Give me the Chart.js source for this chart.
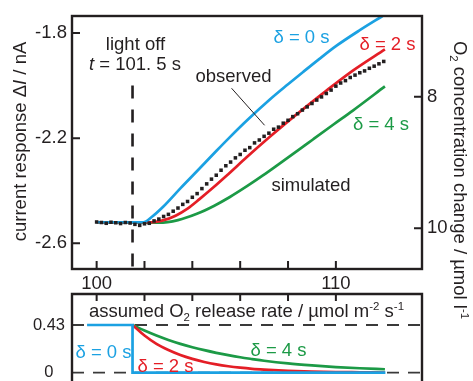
<!DOCTYPE html>
<html>
<head>
<meta charset="utf-8">
<script src="https://cdn.jsdelivr.net/npm/chart.js@4.4.1/dist/chart.umd.min.js"></script>
<style>
html, body { margin: 0; padding: 0; background: #fff; }
#top { position: absolute; left: 0; top: 0; width: 473px; height: 381px; }
#bot { position: absolute; left: 0; top: 285px; width: 473px; height: 96px; }
</style>
</head>
<body>
<div id="top"><canvas id="c1"></canvas></div>
<div id="bot"><canvas id="c2"></canvas></div>
<script>
// ---- data ----
// time axis (s)
const xMin = 98.97, xMax = 113.6;
const xTicks = [100, 102, 104, 106, 108, 110];
const xLabelled = [100, 110];
const lightOff = 101.5;

// current response (nA), left axis
const currentMin = -2.698, currentMax = -1.735;
const currentTicks = [-2.6, -2.2, -1.8];
// O2 concentration change (umol/l), right axis (reversed)
const concMin = 6.774, concMax = 10.618;
const concTicks = [8, 10];

// simulated responses [t, nA]
const sim0 = [[100, -2.52], [101.95, -2.52], [102.3, -2.5], [102.78, -2.461], [103.5, -2.391],
  [104.18, -2.327], [105.0, -2.249], [105.57, -2.196], [106.3, -2.131], [107.24, -2.053],
  [108.0, -1.995], [108.63, -1.948], [109.3, -1.899], [110.03, -1.848], [111.0, -1.789], [111.95, -1.735]];
const sim2 = [[100, -2.52], [102.3, -2.52], [102.8, -2.512], [103.3, -2.495], [103.8, -2.468],
  [104.3, -2.432], [104.86, -2.389], [105.5, -2.337], [106.28, -2.272], [107.24, -2.195],
  [107.95, -2.14], [108.8, -2.077], [109.62, -2.018], [110.71, -1.943], [112.05, -1.862]];
const sim4 = [[100, -2.52], [102.6, -2.522], [103.4, -2.512], [104.19, -2.488], [104.9, -2.458],
  [105.57, -2.424], [106.3, -2.382], [106.95, -2.342], [107.66, -2.296], [108.5, -2.241],
  [109.04, -2.205], [109.9, -2.148], [110.71, -2.095], [112.05, -2.003]];

// observed response [t, nA]
const observed = [
  [100.0, -2.519], [100.2, -2.521], [100.4, -2.524], [100.6, -2.52], [100.8, -2.522],
  [101.0, -2.525], [101.2, -2.521], [101.4, -2.523], [101.6, -2.528], [101.8, -2.532],
  [102.0, -2.526], [102.2, -2.524], [102.4, -2.515], [102.6, -2.508], [102.8, -2.498],
  [103.0, -2.49], [103.2, -2.478], [103.4, -2.466], [103.6, -2.452], [103.8, -2.441],
  [104.0, -2.425], [104.2, -2.411], [104.4, -2.392], [104.6, -2.374], [104.8, -2.356],
  [105.0, -2.341], [105.2, -2.322], [105.4, -2.305], [105.6, -2.291], [105.8, -2.275],
  [106.0, -2.262], [106.2, -2.246], [106.4, -2.236], [106.6, -2.218], [106.8, -2.207],
  [107.0, -2.193], [107.2, -2.181], [107.4, -2.166], [107.6, -2.158], [107.8, -2.143],
  [108.0, -2.132], [108.2, -2.118], [108.4, -2.107], [108.6, -2.093], [108.8, -2.081],
  [109.0, -2.068], [109.2, -2.055], [109.4, -2.043], [109.6, -2.03], [109.8, -2.017],
  [110.0, -2.002], [110.2, -1.99], [110.4, -1.981], [110.6, -1.969], [110.8, -1.96],
  [111.0, -1.951], [111.2, -1.944], [111.4, -1.934], [111.6, -1.926], [111.8, -1.917],
  [112.0, -1.908]];

// assumed O2 release rate (umol m-2 s-1)
const rateMin = -0.0748, rateMax = 0.7095;
const rateTicks = [0, 0.43];
const rateMax0 = 0.43;
const rate0 = [[99.6, 0.43], [101.5, 0.43], [101.5, 0], [112.07, 0]];
const rate2 = [[101.5, 0.43], [102, 0.335], [102.5, 0.26], [103, 0.205], [103.5, 0.16], [104, 0.125],
  [104.5, 0.097], [105, 0.075], [105.5, 0.058], [106, 0.045], [106.5, 0.035], [107, 0.028],
  [108, 0.017], [109, 0.01], [110, 0.006], [111, 0.004], [112.05, 0.002]];
const rate4 = [[101.5, 0.43], [102, 0.38], [102.5, 0.335], [103, 0.295], [103.5, 0.26], [104, 0.23],
  [104.5, 0.203], [105, 0.179], [105.5, 0.158], [106, 0.139], [106.5, 0.123], [107, 0.108],
  [108, 0.084], [109, 0.066], [110, 0.051], [111, 0.04], [112.05, 0.031]];

// ---- styles ----
const FONT = '"Liberation Sans", Arial, sans-serif';
const FS = 18.5;
const INK = '#231f20';
const BLUE = '#1ba1e2', RED = '#e41e26', GREEN = '#1c9a46';

const pts = arr => arr.map(p => ({x: p[0], y: p[1]}));

// draw text with italic / sub / sup pieces, centred on x, baseline at y
function drawRich(ctx, parts, x, y, color, angle) {
  ctx.save();
  ctx.translate(x, y);
  if (angle) ctx.rotate(angle);
  ctx.fillStyle = color;
  ctx.textBaseline = 'alphabetic';
  ctx.textAlign = 'left';
  const fontOf = p => (p.it ? 'italic ' : '') + ((p.sub || p.sup) ? FS * 0.62 : FS) + 'px ' + FONT;
  let w = 0;
  parts.forEach(p => { ctx.font = fontOf(p); w += ctx.measureText(p.t).width; });
  let cx = -w / 2;
  parts.forEach(p => {
    ctx.font = fontOf(p);
    const dy = p.sub ? FS * 0.22 : p.sup ? -FS * 0.4 : 0;
    ctx.fillText(p.t, cx, dy);
    cx += ctx.measureText(p.t).width;
  });
  ctx.restore();
}

const topDecor = {
  id: 'topDecor',
  afterDatasetsDraw(chart) {
    const ctx = chart.ctx, a = chart.chartArea;
    const sx = chart.scales.x, sy = chart.scales.y, sy2 = chart.scales.y2;
    ctx.save();
    ctx.strokeStyle = INK;
    ctx.lineWidth = 2.4;
    ctx.strokeRect(a.left, a.top, a.right - a.left, a.bottom - a.top);
    ctx.lineWidth = 2;
    ctx.beginPath();
    xTicks.forEach(v => { const p = sx.getPixelForValue(v); ctx.moveTo(p, a.bottom); ctx.lineTo(p, a.bottom - 8); });
    currentTicks.forEach(v => { const p = sy.getPixelForValue(v); ctx.moveTo(a.left, p); ctx.lineTo(a.left + 8, p); });
    concTicks.forEach(v => { const p = sy2.getPixelForValue(v); ctx.moveTo(a.right, p); ctx.lineTo(a.right - 8, p); });
    ctx.stroke();
    // pointer from "observed" label to the trace
    ctx.lineWidth = 1;
    ctx.beginPath();
    ctx.moveTo(sx.getPixelForValue(105.64), sy.getPixelForValue(-2.01));
    ctx.lineTo(sx.getPixelForValue(107.02), sy.getPixelForValue(-2.151));
    ctx.stroke();
    ctx.restore();

    drawRich(ctx, [{t: 'light off'}], 135.5, 49.5, INK);
    drawRich(ctx, [{t: 't', it: true}, {t: ' = 101. 5 s'}], 135, 69.5, INK);
    drawRich(ctx, [{t: 'observed'}], 233.5, 81.5, INK);
    drawRich(ctx, [{t: 'simulated'}], 311, 191, INK);
    drawRich(ctx, [{t: 'δ = 0 s'}], 301.5, 43, BLUE);
    drawRich(ctx, [{t: 'δ = 2 s'}], 387.5, 49.5, RED);
    drawRich(ctx, [{t: 'δ = 4 s'}], 381, 129.5, GREEN);
    drawRich(ctx, [{t: 'current response Δ'}, {t: 'I', it: true}, {t: ' / nA'}], 26, 141.5, INK, -Math.PI / 2);
    drawRich(ctx, [{t: 'O'}, {t: '2', sub: true}, {t: ' concentration change / µmol l'}, {t: '-1', sup: true}],
      454, 180, INK, Math.PI / 2);
  }
};

const botDecor = {
  id: 'botDecor',
  afterDatasetsDraw(chart) {
    const ctx = chart.ctx, a = chart.chartArea;
    const sx = chart.scales.x;
    ctx.save();
    ctx.strokeStyle = INK;
    ctx.lineWidth = 2.4;
    ctx.beginPath();
    ctx.moveTo(a.left, chart.height + 5);
    ctx.lineTo(a.left, a.top);
    ctx.lineTo(a.right, a.top);
    ctx.lineTo(a.right, chart.height + 5);
    ctx.stroke();
    ctx.lineWidth = 2;
    ctx.beginPath();
    xTicks.forEach(v => { const p = sx.getPixelForValue(v); ctx.moveTo(p, a.top); ctx.lineTo(p, a.top + 7); });
    ctx.stroke();
    ctx.restore();

    drawRich(ctx, [{t: 'assumed O'}, {t: '2', sub: true}, {t: ' release rate / µmol m'}, {t: '-2', sup: true},
      {t: ' s'}, {t: '-1', sup: true}], 246.5, 32, INK);
    drawRich(ctx, [{t: 'δ = 0 s'}], 103.5, 73, BLUE);
    drawRich(ctx, [{t: 'δ = 2 s'}], 165.5, 86.5, RED);
    drawRich(ctx, [{t: 'δ = 4 s'}], 278.5, 71, GREEN);
  }
};

const lineSet = (data, color, extra) => Object.assign({
  data: pts(data), borderColor: color, borderWidth: 2.7, pointRadius: 0,
  cubicInterpolationMode: 'monotone', fill: false
}, extra || {});

// keep the plot box where the figure has it: no automatic label padding
const noPad = s => { s.paddingTop = 0; s.paddingBottom = 0; s.paddingLeft = 0; s.paddingRight = 0; };

const tickFont = {family: FONT, size: FS};
const base = {
  responsive: true, maintainAspectRatio: false, animation: false, devicePixelRatio: 1,
  plugins: {legend: {display: false}, tooltip: {enabled: false}}
};

new Chart(document.getElementById('c1'), {
  type: 'line',
  data: {
    datasets: [
      {data: pts(observed), showLine: false, pointStyle: 'rect', pointRadius: 2.5,
        backgroundColor: INK, borderWidth: 0},
      lineSet(sim0, BLUE),
      lineSet(sim2, RED),
      lineSet(sim4, GREEN),
      {data: [{x: lightOff, y: -2.0}, {x: lightOff, y: currentMin}], borderColor: INK,
        borderWidth: 2.6, borderDash: [13, 11], pointRadius: 0}
    ]
  },
  options: Object.assign({}, base, {
    layout: {autoPadding: false, padding: {top: 16, left: 0, right: 0, bottom: 0}},
    scales: {
      x: {type: 'linear', min: xMin, max: xMax, grid: {display: false, drawTicks: false}, border: {display: false},
        afterBuildTicks: s => { s.ticks = xTicks.map(v => ({value: v})); },
        afterFit: s => { s.height = 112; noPad(s); },
        ticks: {font: tickFont, color: INK, padding: 4, maxRotation: 0, autoSkip: false,
          callback: v => xLabelled.includes(v) ? String(v) : ''}},
      y: {type: 'linear', position: 'left', min: currentMin, max: currentMax,
        grid: {display: false, drawTicks: false}, border: {display: false},
        afterBuildTicks: s => { s.ticks = currentTicks.map(v => ({value: v})); },
        afterFit: s => { s.width = 72; noPad(s); },
        ticks: {font: tickFont, color: INK, padding: 5, callback: v => v.toFixed(1)}},
      y2: {type: 'linear', position: 'right', reverse: true, min: concMin, max: concMax,
        grid: {display: false, drawTicks: false}, border: {display: false},
        afterBuildTicks: s => { s.ticks = concTicks.map(v => ({value: v})); },
        afterFit: s => { s.width = 51; noPad(s); },
        ticks: {font: tickFont, color: INK, padding: 5, callback: v => String(v)}}
    }
  }),
  plugins: [topDecor]
});

new Chart(document.getElementById('c2'), {
  type: 'line',
  data: {
    datasets: [
      lineSet(rate0, BLUE, {cubicInterpolationMode: 'default', tension: 0}),
      lineSet(rate2, RED),
      lineSet(rate4, GREEN),
      {data: [{x: xMin, y: rateMax0}, {x: xMax, y: rateMax0}], borderColor: '#3a3a3a', borderWidth: 1.8,
        borderDash: [12, 9], pointRadius: 0},
      {data: [{x: xMin, y: 0}, {x: xMax, y: 0}], borderColor: '#3a3a3a', borderWidth: 1.8,
        borderDash: [12, 9], pointRadius: 0}
    ]
  },
  options: Object.assign({}, base, {
    layout: {autoPadding: false, padding: {top: 9, left: 0, right: 51, bottom: 0}},
    scales: {
      x: {type: 'linear', min: xMin, max: xMax, display: false},
      y: {type: 'linear', position: 'left', min: rateMin, max: rateMax,
        grid: {display: false, drawTicks: false}, border: {display: false},
        afterBuildTicks: s => { s.ticks = rateTicks.map(v => ({value: v})); },
        afterFit: s => { s.width = 72; noPad(s); },
        ticks: {font: {family: FONT, size: 16.5}, color: INK, padding: 7, crossAlign: 'center',
          callback: v => String(v)}}
    }
  }),
  plugins: [botDecor]
});
</script>
</body>
</html>
